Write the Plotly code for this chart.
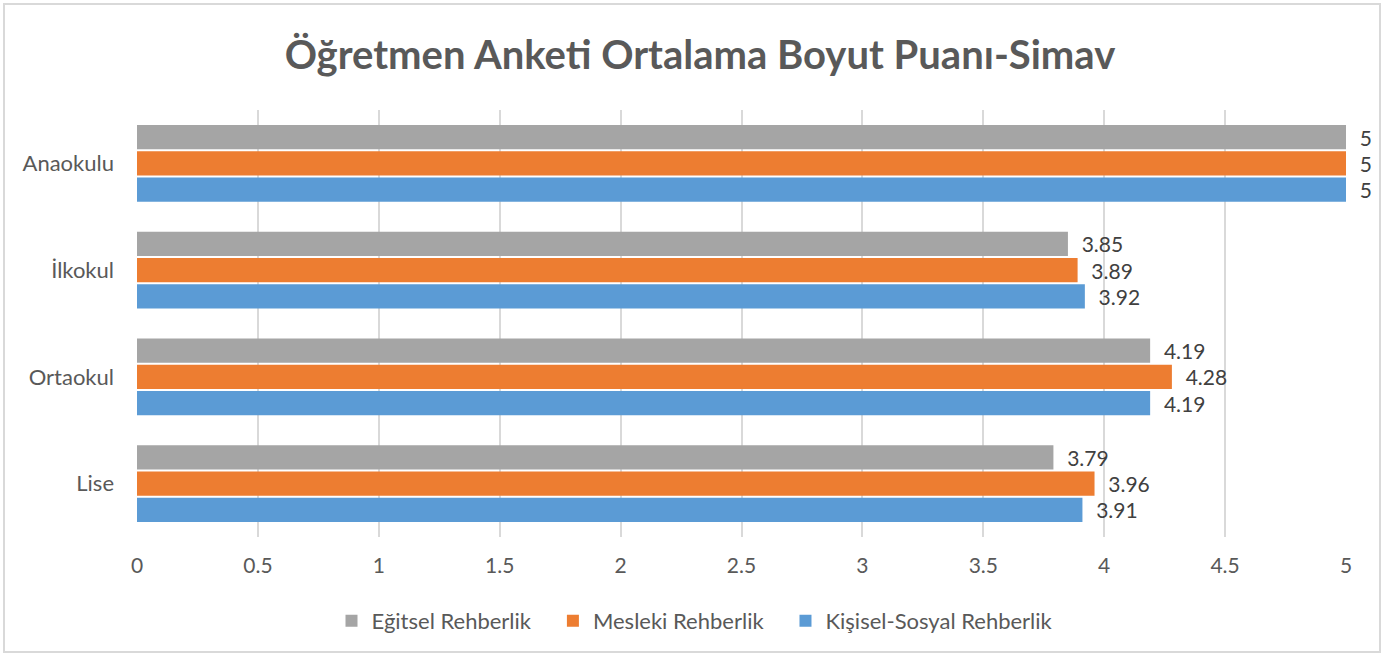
import plotly.graph_objects as go

categories = ["Lise", "Ortaokul", "İlkokul", "Anaokulu"]
egitsel = [3.79, 4.19, 3.85, 5]
mesleki = [3.96, 4.28, 3.89, 5]
kisisel = [3.91, 4.19, 3.92, 5]
x_ticks = [0, 0.5, 1, 1.5, 2, 2.5, 3, 3.5, 4, 4.5, 5]

PAD = "\u00a0" * 3
series = [
    ("Kişisel-Sosyal Rehberlik", kisisel, "#5B9BD5", ""),
    ("Mesleki Rehberlik", mesleki, "#ED7D31", PAD),
    ("Eğitsel Rehberlik", egitsel, "#A5A5A5", PAD),
]

FONT = "Lato"
fig = go.Figure()
for name, vals, color, pad in series:
    fig.add_trace(go.Bar(
        y=categories, x=vals, name=name + pad, orientation="h",
        marker=dict(color=color, line=dict(width=0)),
        text=[f"{v:g}" for v in vals],
        texttemplate="  %{text}",
        textposition="outside",
        constraintext="none",
        textfont=dict(family=FONT, size=21, color="#404040"),
        cliponaxis=False,
    ))

L, R, T, B = 137, 54, 110, 118
W, H = 1400, 655
pw, ph = W - L - R, H - T - B

fig.update_layout(
    width=W, height=H,
    margin=dict(l=L, r=R, t=T, b=B, autoexpand=False),
    paper_bgcolor="white", plot_bgcolor="white",
    barmode="group", bargap=0.26, bargroupgap=0.08,
    title=dict(text="<b>Öğretmen Anketi Ortalama Boyut Puanı-Simav</b>",
               x=0.5, xanchor="center", y=1 - 55 / H, yanchor="middle",
               font=dict(family=FONT, size=40, color="#595959")),
    xaxis=dict(range=[0, 5], tickvals=x_ticks, ticktext=[f"{t:g}" for t in x_ticks],
               showgrid=True, gridcolor="#D9D9D9",
               gridwidth=1.5, zeroline=False, showline=False, ticks="",
               tickfont=dict(family=FONT, size=21, color="#595959"),
               ticklabelstandoff=14, automargin=False),
    yaxis=dict(showgrid=False, showline=False, ticks="",
               categoryorder="array", categoryarray=categories,
               tickfont=dict(family=FONT, size=22, color="#595959"),
               ticklabelstandoff=22, automargin=False),
    legend=dict(orientation="h", x=(695 - L) / pw, xanchor="center", y=(H - 621 - B) / ph,
                yanchor="middle", traceorder="reversed",
                font=dict(family=FONT, size=22, color="#595959"),
                itemwidth=30),
    showlegend=True,
)

# chart border
fig.add_shape(type="rect", xref="paper", yref="paper",
              x0=(4 - L) / pw, x1=(1380 - L) / pw,
              y0=-(652 - (T + ph)) / ph, y1=1 + (T - 4) / ph,
              line=dict(color="#D9D9D9", width=2), fillcolor="rgba(0,0,0,0)",
              layer="below")

fig.write_html("out.html", config={"displayModeBar": False},
               post_script="document.body.style.margin='0';document.body.style.padding='0';")
